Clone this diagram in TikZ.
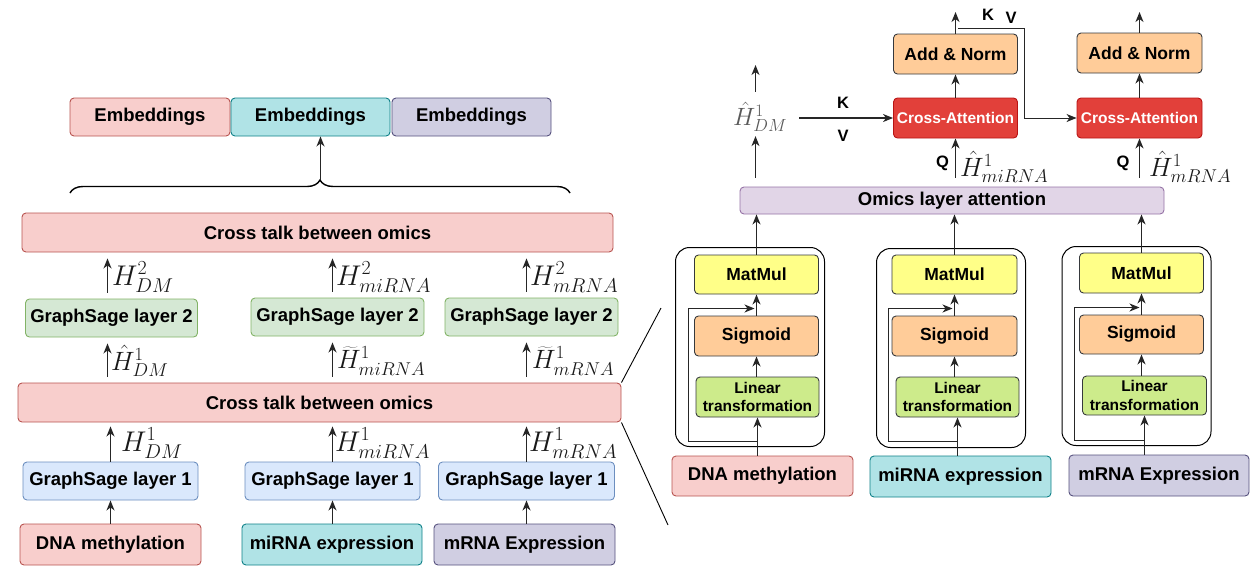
\RequirePackage{fix-cm}
\documentclass[tikz,border=0pt]{standalone}
\usepackage{fontspec}
\setsansfont{Liberation Sans}
\usetikzlibrary{arrows.meta,decorations.pathreplacing}
\definecolor{pinkfill}{HTML}{F8CECC}
\definecolor{pinkline}{HTML}{B85450}
\definecolor{tealfill}{HTML}{B0E3E6}
\definecolor{tealline}{HTML}{0E8088}
\definecolor{purpfill}{HTML}{D0CEE2}
\definecolor{purpline}{HTML}{56517E}
\definecolor{greenfill}{HTML}{D5E8D4}
\definecolor{greenline}{HTML}{82B366}
\definecolor{bluefill}{HTML}{DAE8FC}
\definecolor{blueline}{HTML}{6C8EBF}
\definecolor{lilafill}{HTML}{E1D5E7}
\definecolor{lilaline}{HTML}{9673A6}
\definecolor{yellfill}{HTML}{FFFF88}
\definecolor{peachfill}{HTML}{FFCC99}
\definecolor{limefill}{HTML}{CDEB8B}
\definecolor{darkline}{HTML}{36393D}
\definecolor{redfill}{HTML}{E2403A}
\definecolor{redline}{HTML}{B81414}
\begin{document}
\begin{tikzpicture}
  [x=1pt,y=-1pt,
   box/.style={draw,rounded corners=4pt,line width=0.9pt,inner sep=0pt,
     font=\sffamily\bfseries\fontsize{18.5}{21}\selectfont},
   pinkbox/.style={box,fill=pinkfill,draw=pinkline},
   tealbox/.style={box,fill=tealfill,draw=tealline},
   purpbox/.style={box,fill=purpfill,draw=purpline},
   greenbox/.style={box,fill=greenfill,draw=greenline},
   bluebox/.style={box,fill=bluefill,draw=blueline},
   mulbox/.style={box,fill=yellfill,draw=darkline,font=\sffamily\bfseries\fontsize{17.5}{20}\selectfont},
   sigbox/.style={mulbox,fill=peachfill},
   linbox/.style={box,fill=limefill,draw=darkline,align=center,
     font=\sffamily\bfseries\fontsize{15.5}{18.5}\selectfont},
   attbox/.style={box,fill=redfill,draw=redline,text=white,
     font=\sffamily\bfseries\fontsize{15.5}{18}\selectfont},
   modbox/.style={draw,rounded corners=14pt,line width=1pt,minimum width=149pt,minimum height=199pt},
   arr/.style={-{Stealth[length=10pt,width=8pt,inset=3pt]},line width=1.3pt,draw=black!85},
   mlab/.style={inner sep=0pt,anchor=west,text=black!90,font=\fontsize{28.5}{31}\selectfont},
   hlab/.style={mlab,font=\fontsize{26.5}{29}\selectfont},
   kvq/.style={inner sep=0pt,font=\sffamily\bfseries\fontsize{16.5}{19}\selectfont}]
  \useasboundingbox (0,0) rectangle (1260,571);

  % left part
  \node[pinkbox,minimum width=160pt,minimum height=38pt] (e1) at (150,117) {Embeddings};
  \node[tealbox,minimum width=159pt,minimum height=38pt] (e2) at (310.5,117) {Embeddings};
  \node[purpbox,minimum width=159pt,minimum height=38pt] (e3) at (471.5,117) {Embeddings};
  \draw[decorate,decoration={brace,amplitude=13pt},line width=1.4pt] (70,193) -- (570,193);
  \coordinate (br) at (320.5,180);

  \node[pinkbox,minimum width=591pt,minimum height=39pt] (ct2) at (317.5,232.5) {Cross talk between omics};
  \node[greenbox,minimum width=172pt,minimum height=38pt] (g2a) at (111.5,318) {GraphSage layer 2};
  \node[greenbox,minimum width=173pt,minimum height=38pt] (g2b) at (337.5,317) {GraphSage layer 2};
  \node[greenbox,minimum width=173pt,minimum height=38pt] (g2c) at (531.5,317) {GraphSage layer 2};
  \node[pinkbox,minimum width=603pt,minimum height=39pt] (ct1) at (319.5,402.5) {Cross talk between omics};
  \node[bluebox,minimum width=175pt,minimum height=38pt] (g1a) at (110.5,481) {GraphSage layer 1};
  \node[bluebox,minimum width=175pt,minimum height=38pt] (g1b) at (332.5,481) {GraphSage layer 1};
  \node[bluebox,minimum width=176pt,minimum height=38pt] (g1c) at (526.5,481) {GraphSage layer 1};
  \node[pinkbox,minimum width=181pt,minimum height=41pt] (d1) at (110.5,544.5) {DNA methylation};
  \node[tealbox,minimum width=180pt,minimum height=41pt] (d2) at (332,544.5) {miRNA expression};
  \node[purpbox,minimum width=181pt,minimum height=41pt] (d3) at (524.5,544.5) {mRNA Expression};

  \node[mlab] (h2a) at (112,277) {$H^2_{DM}$};
  \node[mlab] (h2b) at (336,277) {$H^2_{miRNA}$};
  \node[mlab] (h2c) at (530,277) {$H^2_{mRNA}$};
  \node[hlab] (t1a) at (111,361) {$\hat{H}^1_{DM}$};
  \node[hlab] (t1b) at (337,361) {$\widetilde{H}^1_{miRNA}$};
  \node[hlab] (t1c) at (532,361) {$\widetilde{H}^1_{mRNA}$};
  \node[mlab] (l1a) at (121,443) {$H^1_{DM}$};
  \node[mlab] (l1b) at (335,443) {$H^1_{miRNA}$};
  \node[mlab] (l1c) at (529,443) {$H^1_{mRNA}$};

  \path[every edge/.style={draw,arr}]
    (br) edge (e2.south -| br)
    (d1.north) edge (g1a.south)
    (d2.north -| g1b.south) edge (g1b.south)
    (d3.north -| g1c.south) edge (g1c.south)
    (g1a.north) edge[shorten >=4pt] (g1a.north |- ct1.south)
    (g1b.north) edge[shorten >=4pt] (g1b.north |- ct1.south)
    (g1c.north) edge[shorten >=4pt] (g1c.north |- ct1.south)
    ([xshift=-4pt]g2a.south |- ct1.north) edge[shorten <=6pt,shorten >=6pt] ([xshift=-4pt]g2a.south)
    ([xshift=-5pt]g2b.south |- ct1.north) edge[shorten <=6pt,shorten >=6pt] ([xshift=-5pt]g2b.south)
    ([xshift=-5pt]g2c.south |- ct1.north) edge[shorten <=6pt,shorten >=6pt] ([xshift=-5pt]g2c.south)
    ([xshift=-4pt]g2a.north) edge[shorten <=6pt,shorten >=6pt] ([xshift=-4pt]g2a.north |- ct2.south)
    ([xshift=-5pt]g2b.north) edge[shorten <=6pt,shorten >=6pt] ([xshift=-5pt]g2b.north |- ct2.south)
    ([xshift=-5pt]g2c.north) edge[shorten <=6pt,shorten >=6pt] ([xshift=-5pt]g2c.north |- ct2.south);

  \coordinate (z1) at (661,308);
  \coordinate (z2) at (668,525);
  \draw[line width=0.9pt] (ct1.north east) -- (z1);
  \draw[line width=0.9pt] (ct1.south east) -- (z2);

  % right part
  \node[box,fill=lilafill,draw=lilaline,minimum width=424pt,minimum height=27pt] (oma) at (952,200.5) {Omics layer attention};
  \node[modbox] (m1) at (750,347) {};
  \node[modbox] (m2) at (951,348) {};
  \node[modbox] (m3) at (1136.5,346) {};
  \node[mulbox,minimum width=124pt,minimum height=39pt] (mm1) at (756.5,274.5) {MatMul};
  \node[mulbox,minimum width=125pt,minimum height=39pt] (mm2) at (954.5,274.5) {MatMul};
  \node[mulbox,minimum width=124pt,minimum height=40pt] (mm3) at (1141.5,273) {MatMul};
  \node[sigbox,minimum width=124pt,minimum height=40pt] (sg1) at (756.5,336) {Sigmoid};
  \node[sigbox,minimum width=125pt,minimum height=40pt] (sg2) at (954.5,336) {Sigmoid};
  \node[sigbox,minimum width=124pt,minimum height=39pt] (sg3) at (1141.5,334.5) {Sigmoid};
  \node[linbox,minimum width=123pt,minimum height=40pt] (ln1) at (757.5,397) {Linear\\transformation};
  \node[linbox,minimum width=123pt,minimum height=40pt] (ln2) at (957.5,397) {Linear\\transformation};
  \node[linbox,minimum width=124pt,minimum height=39pt] (ln3) at (1144.5,395.5) {Linear\\transformation};
  \node[pinkbox,minimum width=181pt,minimum height=40pt] (r1) at (762.5,476) {DNA methylation};
  \node[tealbox,minimum width=181pt,minimum height=41pt] (r2) at (960.5,476.5) {miRNA expression};
  \node[purpbox,minimum width=180pt,minimum height=41pt] (r3) at (1159,475.5) {mRNA Expression};

  \coordinate (s1a) at (757.5,441.5);
  \coordinate (s1b) at (688.5,308.5);
  \coordinate (s2a) at (957.5,441.5);
  \coordinate (s2b) at (888.5,308.5);
  \coordinate (s3a) at (1144.5,440.5);
  \coordinate (s3b) at (1074.5,307.5);
  \path[every edge/.style={draw,arr}]
    (r1.north -| ln1.south) edge (ln1.south)
    (r2.north -| ln2.south) edge (ln2.south)
    (r3.north -| ln3.south) edge (ln3.south)
    (ln1.north -| sg1.south) edge (sg1.south)
    (ln2.north -| sg2.south) edge (sg2.south)
    (ln3.north -| sg3.south) edge (sg3.south)
    (sg1.north) edge (mm1.south)
    (sg2.north) edge (mm2.south)
    (sg3.north) edge (mm3.south)
    (mm1.north) edge (mm1.north |- oma.south)
    (mm2.north) edge (mm2.north |- oma.south)
    (mm3.north) edge (mm3.north |- oma.south);
  \draw[arr,line width=1pt,shorten >=2pt] (s1a) -| (s1b) -- (s1b -| sg1.north);
  \draw[arr,line width=1pt,shorten >=2pt] (s2a) -| (s2b) -- (s2b -| sg2.north);
  \draw[arr,line width=1pt,shorten >=2pt] (s3a) -| (s3b) -- (s3b -| sg3.north);

  \node[attbox,minimum width=124pt,minimum height=40pt] (ca1) at (955.5,118) {Cross-Attention};
  \node[attbox,minimum width=125pt,minimum height=40pt] (ca2) at (1139.5,118) {Cross-Attention};
  \node[sigbox,minimum width=124pt,minimum height=40pt] (an1) at (955.5,54) {Add \& Norm};
  \node[sigbox,minimum width=125pt,minimum height=40pt] (an2) at (1139.5,53) {Add \& Norm};
  \node[hlab,anchor=center,text=black!65,font=\fontsize{25}{28}\selectfont] (hdm) at (760,117) {$\hat{H}^1_{DM}$};
  \node[hlab] (hm1) at (960,167) {$\hat{H}^1_{miRNA}$};
  \node[hlab] (hm2) at (1149,167) {$\hat{H}^1_{mRNA}$};
  \node[kvq] (k1) at (843,103) {K};
  \node[kvq] (v1) at (843,136) {V};
  \node[kvq] (k2) at (988,15) {K};
  \node[kvq] (v2) at (1011,18) {V};
  \node[kvq] (q1) at (942.5,163) {Q};
  \node[kvq] (q2) at (1123,163) {Q};

  \coordinate (hx) at (755.5,65);
  \coordinate (o1) at (955.5,12);
  \coordinate (o2) at (1139.5,12);
  \coordinate (kv0) at (958,28.5);
  \coordinate (kvx) at (1024.5,28.5);
  \path[every edge/.style={draw,arr}]
    (hx |- oma.north) edge[shorten <=9pt,shorten >=4pt] (hx |- hdm.south)
    (hx |- hdm.north) edge[shorten <=10pt] (hx)
    (hdm.east |- ca1.west) edge[shorten <=12pt] (ca1.west)
    (ca1.south |- oma.north) edge[shorten <=9pt] (ca1.south)
    (ca2.south |- oma.north) edge[shorten <=9pt] (ca2.south)
    (ca1.north) edge (an1.south)
    (ca2.north) edge (an2.south)
    (an1.north) edge (o1)
    (an2.north) edge (o2);
  \draw[arr,line width=1pt] (kv0) -- (kvx) -- (kvx |- ca2.west) -- (ca2.west);
\end{tikzpicture}
\end{document}
